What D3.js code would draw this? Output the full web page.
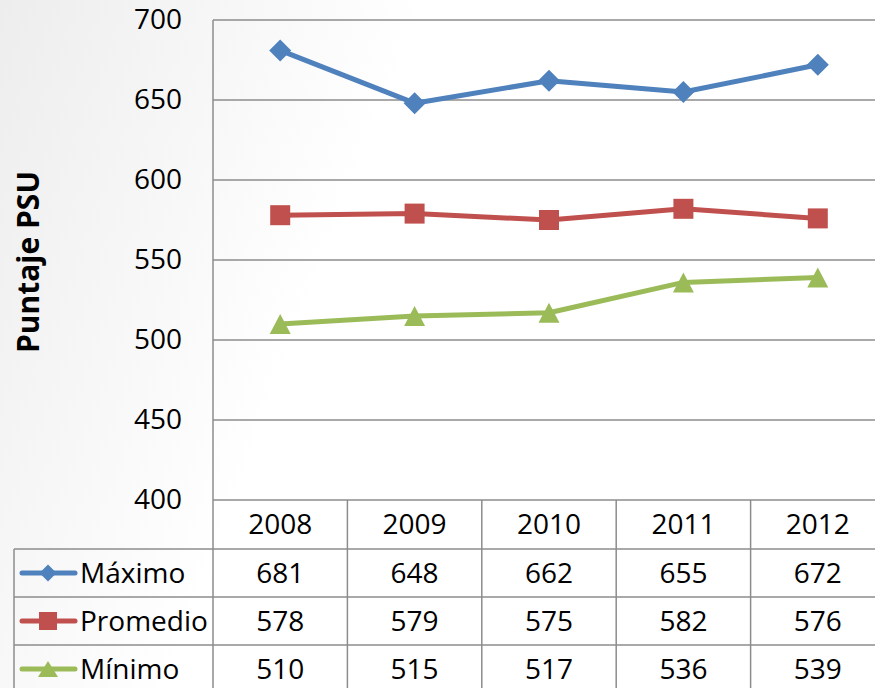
<!DOCTYPE html>
<html>
<head>
<meta charset="utf-8">
<script src="https://cdn.jsdelivr.net/npm/d3@7"></script>
<style>
  body { margin: 0; padding: 0; overflow: hidden; }
  svg { display: block; font-family: "Open Sans", sans-serif; }
</style>
</head>
<body>
<div class="chart"></div>
<script>
// Data
const years = ["2008", "2009", "2010", "2011", "2012"];
const seriesNames = ["Máximo", "Promedio", "Mínimo"];
const maximo = [681, 648, 662, 655, 672];
const promedio = [578, 579, 575, 582, 576];
const minimo = [510, 515, 517, 536, 539];
const yTicks = [400, 450, 500, 550, 600, 650, 700];

// marker shapes (w = full width in px)
function diamond(w) { const r = w / 2; return `M0,${-r}L${r},0L0,${r}L${-r},0Z`; }
function square(w) { const r = w / 2; return `M${-r},${-r}H${r}V${r}H${-r}Z`; }
function triangle(w, h) { return `M0,${-h / 2}L${w / 2},${h / 2}L${-w / 2},${h / 2}Z`; }

const series = [
  {name: seriesNames[0], values: maximo, color: "#4f81bd", marker: diamond(22), legendMarker: diamond(17)},
  {name: seriesNames[1], values: promedio, color: "#c0504d", marker: square(20), legendMarker: square(18)},
  {name: seriesNames[2], values: minimo, color: "#9bbb59", marker: triangle(21, 20), legendMarker: triangle(20, 16)}
];

const width = 875;
const height = 688;
const plot = {left: 213, right: 885, top: 20, bottom: 500};
const rowH = 48;
const headerBottom = 549;
const legendLeft = 14;
const gridColor = "#8c8c8c";
const fontSize = 28;

const svg = d3.select(".chart").append("svg")
  .attr("width", width)
  .attr("height", height);

// background
const defs = svg.append("defs");
const grad = defs.append("linearGradient")
  .attr("id", "bg").attr("x1", "0").attr("y1", "0").attr("x2", "1").attr("y2", "0.3");
grad.append("stop").attr("offset", "0%").attr("stop-color", "#ededed");
grad.append("stop").attr("offset", "45%").attr("stop-color", "#ffffff");
grad.append("stop").attr("offset", "100%").attr("stop-color", "#ffffff");
svg.append("rect").attr("width", width).attr("height", height).attr("fill", "url(#bg)");

// scales
const xScale = d3.scaleBand().domain(years).range([plot.left, plot.right]);
const yScale = d3.scaleLinear().domain([400, 700]).range([plot.bottom, plot.top]);
const cx = y => xScale(y) + xScale.bandwidth() / 2;

// gridlines
svg.append("g").selectAll("line").data(yTicks).join("line")
  .attr("x1", plot.left).attr("x2", plot.right)
  .attr("y1", d => yScale(d)).attr("y2", d => yScale(d))
  .attr("stroke", gridColor).attr("stroke-width", 1.5);

// y axis
const yAxis = d3.axisLeft(yScale).tickValues(yTicks).tickSize(0).tickPadding(31);
const gY = svg.append("g")
  .attr("transform", `translate(${plot.left},0)`)
  .call(yAxis);
gY.select(".domain").remove();
gY.selectAll("text")
  .attr("font-size", fontSize)
  .attr("font-family", "'Open Sans', sans-serif")
  .attr("fill", "#000");

svg.append("text")
  .attr("transform", `translate(28,262) rotate(-90)`)
  .attr("text-anchor", "middle")
  .attr("dy", "0.35em")
  .attr("font-size", 30)
  .attr("font-weight", "bold")
  .text("Puntaje PSU");

// table lines
const tableBottom = headerBottom + rowH * 3;
const tg = svg.append("g").attr("stroke", gridColor).attr("stroke-width", 1.5);
tg.append("line").attr("x1", plot.left).attr("x2", plot.left).attr("y1", plot.top).attr("y2", tableBottom);
years.forEach(y => {
  const x = xScale(y) + xScale.bandwidth();
  tg.append("line").attr("x1", x).attr("x2", x).attr("y1", plot.bottom).attr("y2", tableBottom);
});
tg.append("line").attr("x1", legendLeft).attr("x2", legendLeft).attr("y1", headerBottom).attr("y2", tableBottom);
for (let i = 0; i <= 3; i++) {
  const y = headerBottom + rowH * i;
  tg.append("line").attr("x1", legendLeft).attr("x2", plot.right).attr("y1", y).attr("y2", y);
}

// header years
svg.append("g").selectAll("text").data(years).join("text")
  .attr("x", d => cx(d))
  .attr("y", (plot.bottom + headerBottom) / 2)
  .attr("dy", "0.35em")
  .attr("text-anchor", "middle")
  .attr("font-size", fontSize)
  .text(d => d);

// table rows with legend keys
series.forEach((s, i) => {
  const cy = headerBottom + rowH * i + rowH / 2;
  const row = svg.append("g");
  row.selectAll("text.val").data(s.values).join("text")
    .attr("class", "val")
    .attr("x", (d, j) => cx(years[j]))
    .attr("y", cy)
    .attr("dy", "0.35em")
    .attr("text-anchor", "middle")
    .attr("font-size", fontSize)
    .text(d => d);
  row.append("line")
    .attr("x1", 22).attr("x2", 75).attr("y1", cy).attr("y2", cy)
    .attr("stroke", s.color).attr("stroke-width", 5).attr("stroke-linecap", "round");
  row.append("path")
    .attr("transform", `translate(48,${cy})`)
    .attr("d", s.legendMarker)
    .attr("fill", s.color);
  row.append("text")
    .attr("x", 80).attr("y", cy).attr("dy", "0.35em")
    .attr("font-size", fontSize)
    .text(s.name);
});

// lines
const line = d3.line()
  .x((d, i) => cx(years[i]))
  .y(d => yScale(d));

series.forEach(s => {
  svg.append("path")
    .datum(s.values)
    .attr("d", line)
    .attr("fill", "none")
    .attr("stroke", s.color)
    .attr("stroke-width", 5)
    .attr("stroke-linejoin", "round");
  svg.append("g").selectAll("path").data(s.values).join("path")
    .attr("transform", (d, i) => `translate(${cx(years[i])},${yScale(d)})`)
    .attr("d", s.marker)
    .attr("fill", s.color);
});
</script>
</body>
</html>
